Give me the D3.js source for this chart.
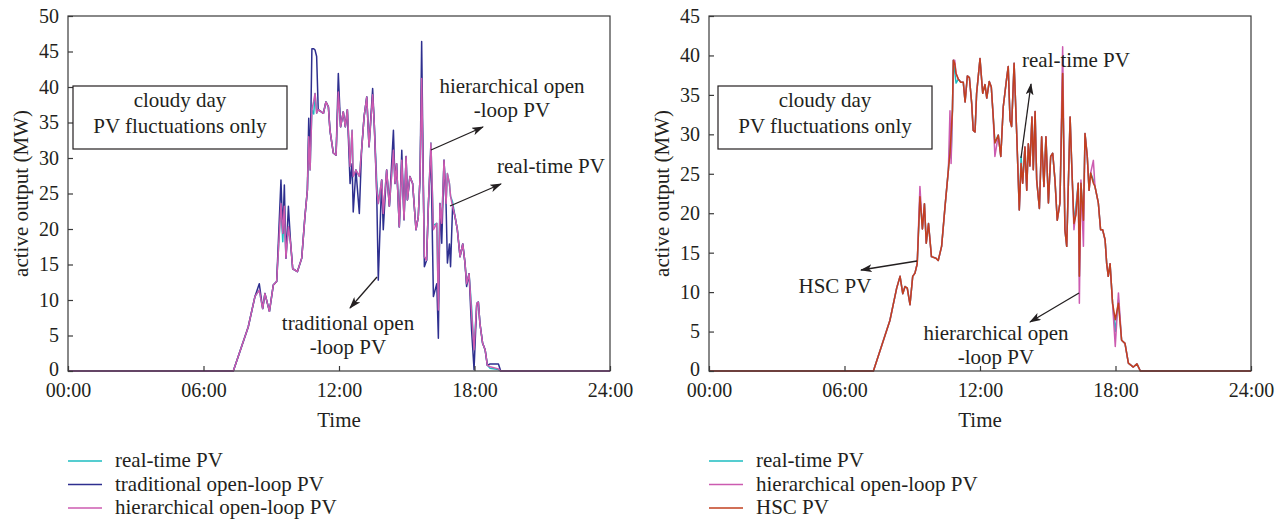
<!DOCTYPE html>
<html><head><meta charset="utf-8">
<script src="https://cdn.jsdelivr.net/npm/d3@7"></script>
<style>
body{margin:0;background:#fff}
svg text{font-family:"Liberation Serif","Times New Roman",serif;fill:#231f20}
</style>
</head><body><svg id="c" width="1285" height="522"></svg>
<script>
// ---------- data (time in hours, output in MW) ----------
const xTickHours = [0, 6, 12, 18, 24];
const leftYTicks = [0,5,10,15,20,25,30,35,40,45,50];
const rightYTicks = [0,5,10,15,20,25,30,35,40,45];

const leftTimes = [0,7.32,7.98,8.28,8.47,8.62,8.72,8.92,9.09,9.24,9.43,9.51,9.58,9.65,9.76,9.86,9.95,10.16,10.35,10.49,10.60,10.66,10.72,10.80,10.88,10.94,11.01,11.08,11.31,11.42,11.53,11.60,11.75,11.87,11.97,12.07,12.19,12.28,12.37,12.49,12.58,12.63,12.75,12.90,13.00,13.11,13.23,13.33,13.49,13.56,13.67,13.74,13.89,13.96,14.11,14.23,14.41,14.48,14.55,14.67,14.78,14.88,14.97,15.03,15.14,15.26,15.41,15.51,15.59,15.66,15.78,15.88,15.96,16.07,16.18,16.33,16.40,16.47,16.55,16.65,16.74,16.80,16.89,16.94,17.03,17.14,17.24,17.36,17.48,17.58,17.65,17.76,17.87,17.98,18.10,18.17,18.24,18.36,18.47,18.57,18.69,19.06,19.16,24];
const leftRealtime = [0,0,6.2,10.5,11.4,8.8,10.9,8.4,12.1,12.6,23.6,18.2,23.2,15.9,20.3,17.9,14.4,14.0,15.9,21.7,25.5,33.0,28.3,36.8,36.2,39.1,36.3,36.8,36.3,37.9,37.2,33.9,30.7,30.4,39.3,34.4,36.5,34.4,36.8,28.8,33.9,27.4,28.3,27.4,31.1,35.8,38.6,31.6,38.9,34.9,26.9,23.6,26.9,22.2,28.3,23.2,31.1,26.4,29.2,20.3,29.7,21.3,30.2,24.1,27.4,26.4,19.9,21.7,27.4,41.2,16.1,15.6,23.6,32.1,20.5,20.8,9.5,23.6,20.8,29.7,23.6,27.8,26.4,24.6,23.8,21.7,19.9,16.1,17.9,15.2,12.3,13.7,9.0,3.0,9.5,9.7,6.7,3.9,3.0,0.8,0.4,0.2,0,0];
const leftTraditional = [0,0,6.2,10.5,12.3,8.8,10.9,8.4,12.1,12.6,26.9,19.4,26.2,15.9,23.2,17.9,14.4,14.0,15.9,21.7,25.5,35.6,29.2,45.4,45.4,45.2,44.3,36.8,36.3,37.9,37.2,33.9,30.7,30.4,41.9,34.4,36.5,34.4,36.8,26.4,29.2,22.4,28.3,22.2,31.1,35.8,38.6,31.6,39.8,34.9,25.0,12.8,26.9,19.9,28.3,23.2,33.9,26.4,29.2,20.3,31.1,21.3,30.2,24.1,27.4,26.4,19.9,21.7,27.4,46.4,14.7,15.6,23.6,31.0,10.5,12.3,4.6,23.6,18.0,29.7,23.6,15.2,17.9,14.7,23.2,21.7,19.9,16.1,17.9,15.2,11.9,13.7,5.8,0.2,9.5,9.7,6.7,3.9,3.0,0.8,1.0,1.0,0,0];
const leftHierarchical = [0,0,6.2,10.5,11.4,8.8,10.9,8.4,12.1,12.6,23.6,19.4,23.2,15.9,20.3,17.9,14.4,14.0,15.9,21.7,25.5,33.0,28.3,36.8,38.0,39.1,36.3,36.8,36.3,37.9,37.2,33.9,30.7,30.4,39.3,34.4,36.5,34.4,36.8,28.8,33.9,27.4,28.3,27.4,31.1,35.8,38.6,31.6,38.9,34.9,25.5,23.6,26.9,22.2,28.3,23.2,31.1,26.4,29.2,20.3,29.7,21.3,30.2,24.1,27.4,26.4,19.9,21.7,27.4,41.2,16.1,15.6,23.6,32.1,19.9,20.8,8.6,23.6,20.8,29.7,23.6,27.8,26.4,24.6,23.2,21.7,19.9,16.1,17.9,15.2,12.3,13.7,8.1,3.0,9.5,9.7,6.7,3.9,3.0,0.8,0.6,0.3,0,0];

const rightTimes = [0,7.28,8.01,8.31,8.46,8.58,8.68,8.78,8.90,9.02,9.12,9.22,9.34,9.45,9.54,9.62,9.72,9.85,10.05,10.15,10.30,10.45,10.60,10.67,10.72,10.78,10.82,10.88,10.94,11.04,11.15,11.26,11.34,11.44,11.53,11.63,11.70,11.78,11.85,12.00,12.12,12.22,12.30,12.41,12.50,12.58,12.66,12.81,12.92,13.03,13.18,13.25,13.33,13.40,13.51,13.62,13.74,13.82,13.89,13.99,14.07,14.14,14.21,14.30,14.36,14.44,14.51,14.63,14.73,14.83,14.92,15.03,15.13,15.22,15.32,15.42,15.54,15.66,15.76,15.84,15.99,16.06,16.16,16.25,16.35,16.40,16.47,16.58,16.65,16.75,16.83,16.90,17.02,17.09,17.24,17.34,17.43,17.54,17.61,17.68,17.76,17.87,17.99,18.13,18.27,18.42,18.57,18.79,18.95,19.10,24];
const rightRealtime = [0,0,6.4,10.5,12.0,9.8,10.7,10.5,8.4,12.0,12.4,13.6,22.1,18.0,21.2,16.2,18.7,14.5,14.3,14.0,15.8,20.8,25.5,29.0,27.0,33.1,39.4,38.0,36.5,37.0,36.6,36.6,34.1,37.4,37.2,34.0,30.5,30.3,35.2,39.6,35.2,36.3,34.6,36.7,36.0,32.5,28.9,29.9,27.2,33.5,37.1,38.6,31.8,31.0,39.0,30.5,20.4,27.2,23.8,28.4,22.9,28.8,26.0,32.2,25.5,32.9,24.2,20.6,29.7,23.4,29.7,21.3,27.2,27.6,24.2,19.1,21.3,37.7,17.9,15.8,32.2,26.3,18.7,21.0,23.8,12.0,23.8,19.1,30.1,27.2,22.9,25.1,24.2,23.4,21.3,17.9,17.9,16.6,13.6,12.0,13.6,8.6,5.0,9.0,3.9,3.5,1.0,0.5,0.9,0,0];
const rightHierarchical = [0,0,6.4,10.5,12.0,9.8,10.7,10.5,8.4,12.0,12.4,13.6,23.4,18.0,21.2,16.2,18.7,14.5,14.3,14.0,15.8,20.8,25.5,33.0,26.3,33.1,39.4,39.4,37.7,37.0,36.6,36.6,34.1,37.4,37.2,34.0,30.5,30.3,35.2,39.6,35.2,36.3,34.6,36.7,36.0,32.5,27.2,29.9,27.2,33.5,37.1,38.6,31.8,31.0,39.0,30.5,20.4,26.3,23.8,28.4,22.9,28.8,26.0,32.2,25.5,32.9,24.2,20.6,29.7,23.4,29.7,21.3,27.2,27.6,24.2,19.1,21.3,41.1,17.9,15.8,32.2,26.3,17.9,20.4,23.8,8.6,24.2,15.8,30.1,27.2,22.9,25.1,26.7,23.4,21.3,17.9,17.9,16.6,13.6,12.0,13.6,8.6,3.1,9.9,3.9,3.5,1.0,0.5,0.9,0,0];
const rightHSC = [0,0,6.4,10.5,12.0,9.8,10.7,10.5,8.4,12.0,12.4,13.6,22.1,18.0,21.2,16.2,18.7,14.5,14.3,14.0,15.8,20.8,25.5,27.6,30.0,33.1,39.4,39.0,37.7,37.0,36.6,36.6,34.1,37.4,37.2,34.0,30.5,30.3,35.2,39.6,35.2,36.3,34.6,36.7,36.0,32.5,28.9,29.9,27.2,33.5,37.1,38.6,31.8,31.0,39.0,30.5,20.4,26.3,23.8,28.4,22.9,28.8,26.0,32.2,25.5,32.9,24.2,20.6,29.7,23.4,29.7,21.3,27.2,27.6,24.2,19.1,21.3,37.7,17.9,15.8,32.2,26.3,18.7,19.8,23.8,12.0,23.8,19.1,30.1,27.2,22.9,25.1,23.8,23.4,21.3,17.9,17.9,16.6,13.6,12.0,13.6,8.6,6.5,8.6,3.9,3.5,1.0,0.5,0.9,0,0];

const COL = {cyan:"#1dbcc0", navy:"#2e2f8f", pink:"#cc5bb0", red:"#c2401f", ink:"#231f20", axis:"#3a3a3a"};

const svg = d3.select("#c");
svg.append("rect").attr("width",1285).attr("height",522).attr("fill","#fff");
const defs = svg.append("defs");
defs.append("marker").attr("id","arr").attr("viewBox","0 0 12 8").attr("refX",11).attr("refY",4)
  .attr("markerWidth",12).attr("markerHeight",8).attr("markerUnits","userSpaceOnUse").attr("orient","auto")
  .append("path").attr("d","M0,0 L12,4 L0,8 L3,4 Z").attr("fill",COL.ink);

function panel(cfg){
  const g = svg.append("g");
  const x = d3.scaleLinear().domain([0,24]).range([cfg.x0,cfg.x1]);
  const y = d3.scaleLinear().domain([0,cfg.yMax]).range([cfg.y1,cfg.y0]);
  const line = d3.line().x(d=>x(d[0])).y(d=>y(d[1]));
  cfg.series.forEach(s=>{
    g.append("path").datum(cfg.times.map((t,i)=>[t,s.values[i]]))
      .attr("d",line).attr("fill","none").attr("stroke",s.color)
      .attr("stroke-width",1.5).attr("stroke-linejoin","round");
  });
  const fmt = h => String(h).padStart(2,"0")+":00";
  const xa = g.append("g").attr("transform",`translate(0,${cfg.y1})`)
    .call(d3.axisBottom(x).tickValues(xTickHours).tickFormat(fmt).tickSizeInner(-5).tickSizeOuter(0).tickPadding(12));
  const ya = g.append("g").attr("transform",`translate(${cfg.x0},0)`)
    .call(d3.axisLeft(y).tickValues(cfg.yTicks).tickFormat(d3.format("d")).tickSizeInner(-5).tickSizeOuter(0).tickPadding(9));
  [xa,ya].forEach(a=>{
    a.select(".domain").remove();
    a.selectAll(".tick line").attr("stroke",COL.axis).attr("stroke-width",1.2);
    a.selectAll(".tick text").attr("font-size",20).attr("fill",COL.ink)
      .style("font-family","'Liberation Serif',serif");
  });
  ya.selectAll(".tick text").filter(d=>d===0).attr("dy","0.2em");
  g.append("rect").attr("x",cfg.x0).attr("y",cfg.y0).attr("width",cfg.x1-cfg.x0).attr("height",cfg.y1-cfg.y0)
    .attr("fill","none").attr("stroke",COL.axis).attr("stroke-width",1.2);
  g.append("text").attr("x",(cfg.x0+cfg.x1)/2).attr("y",427).attr("text-anchor","middle").attr("font-size",21).text("Time");
  g.append("text").attr("transform",`translate(${cfg.x0-40},${(cfg.y0+cfg.y1)/2}) rotate(-90)`)
    .attr("text-anchor","middle").attr("font-size",21).text("active output (MW)");
  const b = cfg.box;
  g.append("rect").attr("x",b[0]).attr("y",b[1]).attr("width",b[2]).attr("height",b[3])
    .attr("fill","#fff").attr("stroke",COL.ink).attr("stroke-width",1.2);
  g.append("text").attr("x",b[0]+b[2]/2).attr("y",b[1]+21).attr("text-anchor","middle").attr("font-size",21).text("cloudy day");
  g.append("text").attr("x",b[0]+b[2]/2).attr("y",b[1]+47).attr("text-anchor","middle").attr("font-size",21).text("PV fluctuations only");
  cfg.notes.forEach(n=>{
    n.lines.forEach((l,i)=>g.append("text").attr("x",n.x).attr("y",n.y+i*24).attr("text-anchor",n.anchor||"start").attr("font-size",21).text(l));
    g.append("line").attr("x1",n.a[0]).attr("y1",n.a[1]).attr("x2",n.a[2]).attr("y2",n.a[3])
      .attr("stroke",COL.ink).attr("stroke-width",1.3).attr("marker-end","url(#arr)");
  });
  cfg.series.forEach((s,i)=>{
    const ly = 461 + i*23.5;
    g.append("line").attr("x1",cfg.legX).attr("x2",cfg.legX+34).attr("y1",ly).attr("y2",ly).attr("stroke",s.color).attr("stroke-width",1.5);
    g.append("text").attr("x",cfg.legX+47).attr("y",ly+6).attr("font-size",21).text(s.name);
  });
}

panel({x0:68,x1:610,y0:16,y1:371,yMax:50,yTicks:leftYTicks,times:leftTimes,
  series:[{name:"real-time PV",values:leftRealtime,color:COL.cyan},
          {name:"traditional open-loop PV",values:leftTraditional,color:COL.navy},
          {name:"hierarchical open-loop PV",values:leftHierarchical,color:COL.pink}],
  box:[73,86,214,63], legX:68,
  notes:[
    {lines:["hierarchical open","-loop PV"],x:512,y:93,anchor:"middle",a:[431,150,483,127]},
    {lines:["real-time PV"],x:551,y:173,anchor:"middle",a:[450,206,501,184]},
    {lines:["traditional open","-loop PV"],x:348,y:330,anchor:"middle",a:[377,277,350,308]}
  ]});

panel({x0:709,x1:1251,y0:16,y1:371,yMax:45,yTicks:rightYTicks,times:rightTimes,
  series:[{name:"real-time PV",values:rightRealtime,color:COL.cyan},
          {name:"hierarchical open-loop PV",values:rightHierarchical,color:COL.pink},
          {name:"HSC PV",values:rightHSC,color:COL.red}],
  box:[718,86,214,63], legX:709,
  notes:[
    {lines:["real-time PV"],x:1076,y:67,anchor:"middle",a:[1021,158,1031,84]},
    {lines:["HSC PV"],x:835,y:293,anchor:"middle",a:[917,261,861,270]},
    {lines:["hierarchical open","-loop PV"],x:996,y:340,anchor:"middle",a:[1079,293,1030,322]}
  ]});
</script></body></html>
